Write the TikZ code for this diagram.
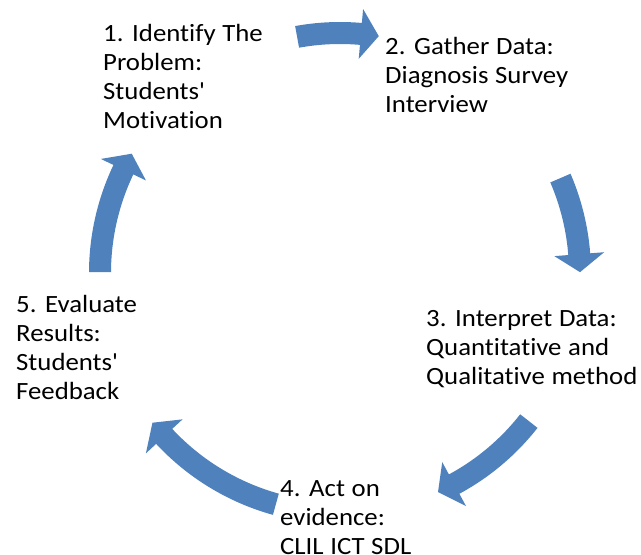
\documentclass[tikz,border=0pt]{standalone}
\usepackage{fontspec}
\setmainfont{Carlito}[Ligatures={NoCommon},FakeStretch=1.08,WordSpace=1.1]
\begin{document}
\begin{tikzpicture}[x=1pt,y=1pt,
  cyclearrow/.style={fill=arrowblue,draw=none},
  steplabel/.style={anchor=base west,inner sep=0pt,font=\fontsize{24.8}{29.3}\selectfont}]
\definecolor{arrowblue}{HTML}{4F81BD}
\useasboundingbox (0,0) rectangle (641,-555);
\coordinate (C) at (340,-273);
% curved block arrow: #1 tail angle, #2 tip angle (clockwise)
\newcommand{\cyclearrowshape}[2]{%
  \fill[cyclearrow,shift={(C)}] (#1:251) arc[start angle=#1, end angle={#2+4.3}, radius=251]
    -- ({#2+4.3}:265) -- (#2:240) -- ({#2+4.3}:215) -- ({#2+4.3}:229)
    arc[start angle={#2+4.3}, end angle=#1, radius=229] -- cycle;}
\cyclearrowshape{100.3}{80.7}
\cyclearrowshape{23.3}{0.2}
\cyclearrowshape{-38.1}{-65.9}
\cyclearrowshape{-105.5}{-141.4}
\cyclearrowshape{179.8}{150.2}
\node[steplabel] (s1) at (103,-41) {\begin{tabular}[t]{@{}l@{}}1. Identify The\\Problem:\\Students\textquotesingle\\Motivation\end{tabular}};
\node[steplabel] (s2) at (385,-54) {\begin{tabular}[t]{@{}l@{}}2. Gather Data:\\Diagnosis Survey\\Interview\end{tabular}};
\node[steplabel] (s3) at (426,-326) {\begin{tabular}[t]{@{}l@{}}3. Interpret Data:\\Quantitative and\\Qualitative method\end{tabular}};
\node[steplabel] (s4) at (280,-496) {\begin{tabular}[t]{@{}l@{}}4. Act on\\evidence:\\CLIL ICT SDL\end{tabular}};
\node[steplabel] (s5) at (16,-312) {\begin{tabular}[t]{@{}l@{}}5. Evaluate\\Results:\\Students\textquotesingle\\Feedback\end{tabular}};
\end{tikzpicture}
\end{document}
